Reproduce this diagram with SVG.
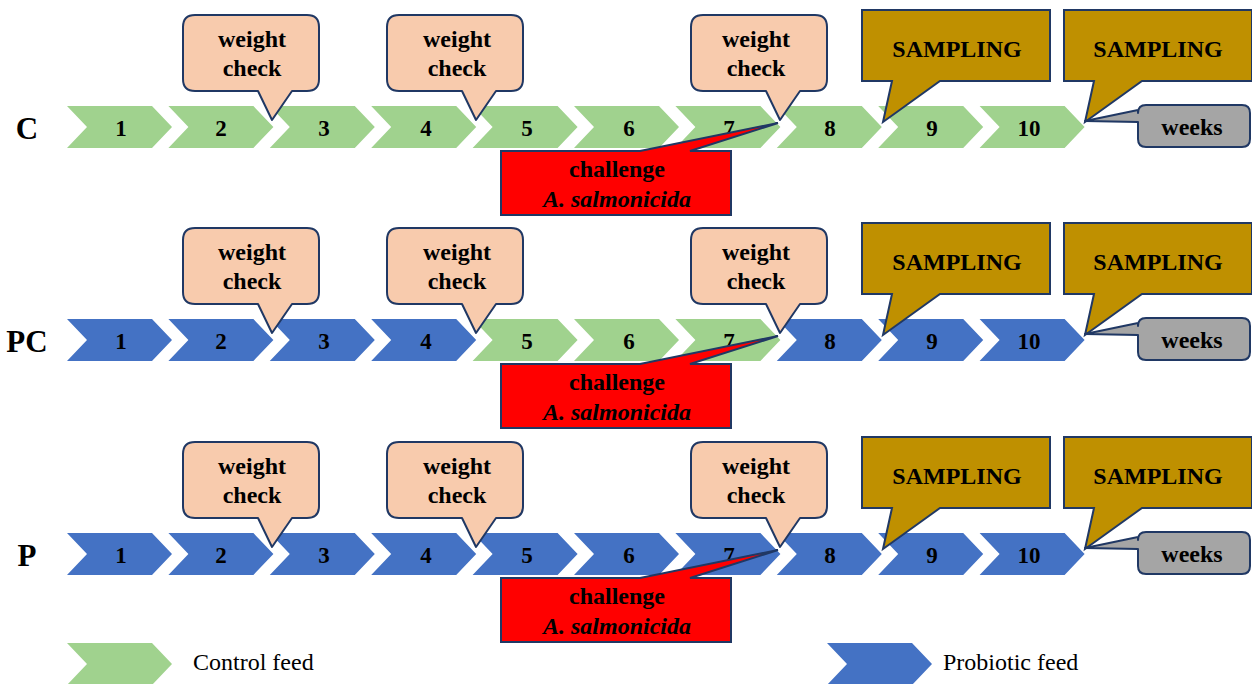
<svg xmlns="http://www.w3.org/2000/svg" xmlns:xlink="http://www.w3.org/1999/xlink" width="1252" height="684" viewBox="0 0 1252 684">
<style>
.g{fill:#A0D28E}
.b{fill:#4472C4}
.num{font-family:"Liberation Serif",serif;font-weight:bold;font-size:23px;fill:#000;text-anchor:middle}
.lab{font-family:"Liberation Serif",serif;font-weight:bold;font-size:31px;fill:#000;text-anchor:middle}
.ct{font-family:"Liberation Serif",serif;font-weight:bold;font-size:24px;fill:#000;text-anchor:middle}
.it{font-style:italic}
.leg{font-family:"Liberation Serif",serif;font-size:24px;fill:#000}
.wc{fill:#F8CBAD;stroke:#203864;stroke-width:2;stroke-linejoin:round}
.sp{fill:#BF9000;stroke:#203864;stroke-width:2;stroke-linejoin:miter}
.wk{fill:#A5A5A5;stroke:#203864;stroke-width:2;stroke-linejoin:round}
.ch{fill:#FF0000;stroke:#203864;stroke-width:2;stroke-linejoin:miter}
</style>
<defs>
<path id="chev" d="M0,0 H85 L105,21 L85,42 H0 L20,21 Z"/>
<path id="wcall" d="M-77,-105 H35 Q47,-105 47,-93 V-41 Q47,-29 35,-29 H20 L0,0 L-14,-29 H-77 Q-89,-29 -89,-41 V-93 Q-89,-105 -77,-105 Z"/>
<path id="scall" d="M-21,-112 H167 V-41 H57 L0,0 L9,-41 H-21 Z"/>
<path id="wkcall" d="M61,-16 H157 Q165,-16 165,-8 V18 Q165,26 157,26 H61 Q53,26 53,18 V1 L0,0 L53,-11 V-8 Q53,-16 61,-16 Z"/>
<path id="chcall" d="M501,151 H640 L778,123 L690,151 H731 V215 H501 Z"/>
</defs>

<!-- Row C -->
<g id="row-C">
<g id="C-label"><text class="lab" x="27" y="139">C</text></g>
<g id="C-w1"><use xlink:href="#chev" class="g" x="67" y="106"/><text class="num" x="121" y="136">1</text></g>
<g id="C-w2"><use xlink:href="#chev" class="g" x="168.4" y="106"/><text class="num" x="221" y="136">2</text></g>
<g id="C-w3"><use xlink:href="#chev" class="g" x="269.8" y="106"/><text class="num" x="324" y="136">3</text></g>
<g id="C-w4"><use xlink:href="#chev" class="g" x="371.2" y="106"/><text class="num" x="426" y="136">4</text></g>
<g id="C-w5"><use xlink:href="#chev" class="g" x="472.6" y="106"/><text class="num" x="527" y="136">5</text></g>
<g id="C-w6"><use xlink:href="#chev" class="g" x="574" y="106"/><text class="num" x="629" y="136">6</text></g>
<g id="C-w7"><use xlink:href="#chev" class="g" x="675.4" y="106"/><text class="num" x="729" y="136">7</text></g>
<g id="C-w8"><use xlink:href="#chev" class="g" x="776.8" y="106"/><text class="num" x="830" y="136">8</text></g>
<g id="C-w9"><use xlink:href="#chev" class="g" x="878.2" y="106"/><text class="num" x="932" y="136">9</text></g>
<g id="C-w10"><use xlink:href="#chev" class="g" x="979.6" y="106"/><text class="num" x="1029" y="136">10</text></g>
<g id="C-wc1"><use xlink:href="#wcall" class="wc" x="272" y="120"/><text class="ct" x="252" y="47">weight</text><text class="ct" x="252" y="76">check</text></g>
<g id="C-wc2"><use xlink:href="#wcall" class="wc" x="476" y="120"/><text class="ct" x="457" y="47">weight</text><text class="ct" x="457" y="76">check</text></g>
<g id="C-wc3"><use xlink:href="#wcall" class="wc" x="780" y="120"/><text class="ct" x="756" y="47">weight</text><text class="ct" x="756" y="76">check</text></g>
<g id="C-s1"><use xlink:href="#scall" class="sp" x="883" y="122"/><text class="ct" x="957" y="57">SAMPLING</text></g>
<g id="C-s2"><use xlink:href="#scall" class="sp" x="1085" y="122"/><text class="ct" x="1158" y="57">SAMPLING</text></g>
<g id="C-weeks"><use xlink:href="#wkcall" class="wk" x="1085" y="121"/><text class="ct" x="1192" y="135">weeks</text></g>
<g id="C-challenge"><use xlink:href="#chcall" class="ch"/><text class="ct" x="617" y="177">challenge</text><text class="ct it" x="617" y="207">A. salmonicida</text></g>
</g>

<!-- Row PC -->
<g id="row-PC" transform="translate(0,213)">
<g id="PC-label"><text class="lab" x="27" y="139">PC</text></g>
<g id="PC-w1"><use xlink:href="#chev" class="b" x="67" y="106"/><text class="num" x="121" y="136">1</text></g>
<g id="PC-w2"><use xlink:href="#chev" class="b" x="168.4" y="106"/><text class="num" x="221" y="136">2</text></g>
<g id="PC-w3"><use xlink:href="#chev" class="b" x="269.8" y="106"/><text class="num" x="324" y="136">3</text></g>
<g id="PC-w4"><use xlink:href="#chev" class="b" x="371.2" y="106"/><text class="num" x="426" y="136">4</text></g>
<g id="PC-w5"><use xlink:href="#chev" class="g" x="472.6" y="106"/><text class="num" x="527" y="136">5</text></g>
<g id="PC-w6"><use xlink:href="#chev" class="g" x="574" y="106"/><text class="num" x="629" y="136">6</text></g>
<g id="PC-w7"><use xlink:href="#chev" class="g" x="675.4" y="106"/><text class="num" x="729" y="136">7</text></g>
<g id="PC-w8"><use xlink:href="#chev" class="b" x="776.8" y="106"/><text class="num" x="830" y="136">8</text></g>
<g id="PC-w9"><use xlink:href="#chev" class="b" x="878.2" y="106"/><text class="num" x="932" y="136">9</text></g>
<g id="PC-w10"><use xlink:href="#chev" class="b" x="979.6" y="106"/><text class="num" x="1029" y="136">10</text></g>
<g id="PC-wc1"><use xlink:href="#wcall" class="wc" x="272" y="120"/><text class="ct" x="252" y="47">weight</text><text class="ct" x="252" y="76">check</text></g>
<g id="PC-wc2"><use xlink:href="#wcall" class="wc" x="476" y="120"/><text class="ct" x="457" y="47">weight</text><text class="ct" x="457" y="76">check</text></g>
<g id="PC-wc3"><use xlink:href="#wcall" class="wc" x="780" y="120"/><text class="ct" x="756" y="47">weight</text><text class="ct" x="756" y="76">check</text></g>
<g id="PC-s1"><use xlink:href="#scall" class="sp" x="883" y="122"/><text class="ct" x="957" y="57">SAMPLING</text></g>
<g id="PC-s2"><use xlink:href="#scall" class="sp" x="1085" y="122"/><text class="ct" x="1158" y="57">SAMPLING</text></g>
<g id="PC-weeks"><use xlink:href="#wkcall" class="wk" x="1085" y="121"/><text class="ct" x="1192" y="135">weeks</text></g>
<g id="PC-challenge"><use xlink:href="#chcall" class="ch"/><text class="ct" x="617" y="177">challenge</text><text class="ct it" x="617" y="207">A. salmonicida</text></g>
</g>

<!-- Row P -->
<g id="row-P" transform="translate(0,427)">
<g id="P-label"><text class="lab" x="27" y="139">P</text></g>
<g id="P-w1"><use xlink:href="#chev" class="b" x="67" y="106"/><text class="num" x="121" y="136">1</text></g>
<g id="P-w2"><use xlink:href="#chev" class="b" x="168.4" y="106"/><text class="num" x="221" y="136">2</text></g>
<g id="P-w3"><use xlink:href="#chev" class="b" x="269.8" y="106"/><text class="num" x="324" y="136">3</text></g>
<g id="P-w4"><use xlink:href="#chev" class="b" x="371.2" y="106"/><text class="num" x="426" y="136">4</text></g>
<g id="P-w5"><use xlink:href="#chev" class="b" x="472.6" y="106"/><text class="num" x="527" y="136">5</text></g>
<g id="P-w6"><use xlink:href="#chev" class="b" x="574" y="106"/><text class="num" x="629" y="136">6</text></g>
<g id="P-w7"><use xlink:href="#chev" class="b" x="675.4" y="106"/><text class="num" x="729" y="136">7</text></g>
<g id="P-w8"><use xlink:href="#chev" class="b" x="776.8" y="106"/><text class="num" x="830" y="136">8</text></g>
<g id="P-w9"><use xlink:href="#chev" class="b" x="878.2" y="106"/><text class="num" x="932" y="136">9</text></g>
<g id="P-w10"><use xlink:href="#chev" class="b" x="979.6" y="106"/><text class="num" x="1029" y="136">10</text></g>
<g id="P-wc1"><use xlink:href="#wcall" class="wc" x="272" y="120"/><text class="ct" x="252" y="47">weight</text><text class="ct" x="252" y="76">check</text></g>
<g id="P-wc2"><use xlink:href="#wcall" class="wc" x="476" y="120"/><text class="ct" x="457" y="47">weight</text><text class="ct" x="457" y="76">check</text></g>
<g id="P-wc3"><use xlink:href="#wcall" class="wc" x="780" y="120"/><text class="ct" x="756" y="47">weight</text><text class="ct" x="756" y="76">check</text></g>
<g id="P-s1"><use xlink:href="#scall" class="sp" x="883" y="122"/><text class="ct" x="957" y="57">SAMPLING</text></g>
<g id="P-s2"><use xlink:href="#scall" class="sp" x="1085" y="122"/><text class="ct" x="1158" y="57">SAMPLING</text></g>
<g id="P-weeks"><use xlink:href="#wkcall" class="wk" x="1085" y="121"/><text class="ct" x="1192" y="135">weeks</text></g>
<g id="P-challenge"><use xlink:href="#chcall" class="ch"/><text class="ct" x="617" y="177">challenge</text><text class="ct it" x="617" y="207">A. salmonicida</text></g>
</g>

<!-- Legend -->
<g id="legend-control"><use xlink:href="#chev" class="g" x="67" y="643"/><text class="leg" x="193" y="670">Control feed</text></g>
<g id="legend-probiotic"><use xlink:href="#chev" class="b" x="827" y="643"/><text class="leg" x="943" y="670">Probiotic feed</text></g>
</svg>
